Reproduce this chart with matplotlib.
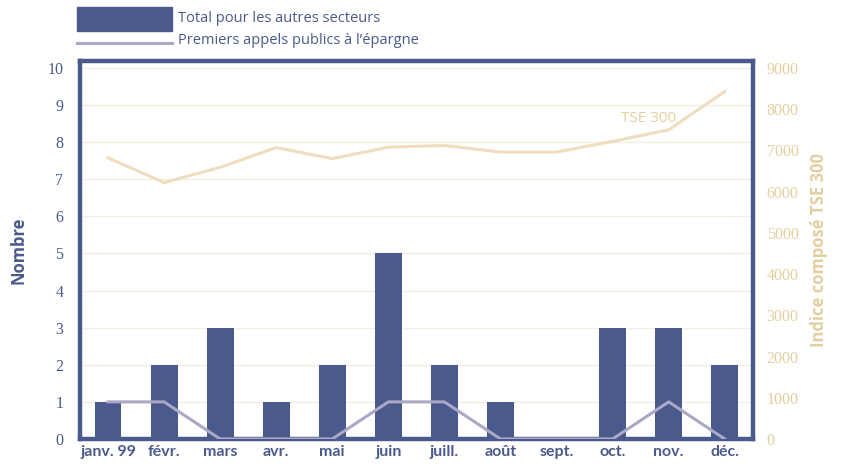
import matplotlib
matplotlib.use("Agg")
import matplotlib.pyplot as plt
from matplotlib.patches import Rectangle
from matplotlib.lines import Line2D

months = ["janv. 99", "févr.", "mars", "avr.", "mai", "juin", "juill.", "août", "sept.", "oct.", "nov.", "déc."]
autres_secteurs = [1, 2, 3, 1, 2, 5, 2, 1, 0, 3, 3, 2]
premiers_appels = [1, 1, 0, 0, 0, 1, 1, 0, 0, 0, 1, 0]
tse300 = [6820, 6220, 6590, 7070, 6800, 7080, 7120, 6960, 6960, 7220, 7500, 8430]

BLUE = "#4A5A8C"
LAV = "#ABA7C6"
BEIGE = "#EEDDBE"
BEIGE_TXT = "#E3CFA0"
GRID = "#F6EEE2"

fig = plt.figure(figsize=(8.41, 4.66), dpi=100)
ax = fig.add_axes([0.0951, 0.058, 0.80, 0.812])
x = list(range(len(months)))

ax.bar(x, autres_secteurs, width=0.48, color=BLUE, zorder=3)
ax.plot(x, premiers_appels, color=LAV, lw=2.2, zorder=4)
ax.set_ylim(0, 10.2)
ax.set_xlim(-0.5, 11.5)
ax.set_yticks(range(0, 11))
ax.yaxis.grid(True, color=GRID, lw=1)
ax.set_axisbelow(True)
ax.set_xticks(x)
ax.set_xticklabels(months, fontfamily="Lato", fontweight="bold", fontsize=11.5, color=BLUE)
for lbl in ax.get_yticklabels():
    lbl.set_fontfamily("Liberation Serif")
    lbl.set_fontsize(11.5)
    lbl.set_color(BLUE)
ax.tick_params(axis="both", length=0)
ax.tick_params(axis="y", pad=12)
ax.tick_params(axis="x", pad=4)
ax.set_ylabel("Nombre", fontfamily="Open Sans", fontweight="bold", fontsize=12, color=BLUE, labelpad=14)
for s in ax.spines.values():
    s.set_color(BLUE)
    s.set_linewidth(3.2)
    s.set_zorder(2)

ax2 = ax.twinx()
ax2.plot(x, tse300, color=BEIGE, lw=2.2, zorder=2)
ax2.set_ylim(0, 9180)
ax2.set_yticks(range(0, 9001, 1000))
for lbl in ax2.get_yticklabels():
    lbl.set_fontfamily("Liberation Serif")
    lbl.set_fontsize(11.5)
    lbl.set_color(BEIGE_TXT)
ax2.tick_params(axis="y", length=0, pad=10)
for s in ax2.spines.values():
    s.set_visible(False)
ax2.set_ylabel("Indice composé TSE 300", fontfamily="Open Sans", fontweight="bold", fontsize=12, color=BEIGE_TXT, labelpad=8)
ax2.text(9.65, 7780, "TSE 300", fontfamily="Open Sans", fontsize=11, color=BEIGE_TXT, ha="center", va="center")

# Legend
fig.patches.append(Rectangle((77/841, 1 - 31/466), 95/841, 24/466, transform=fig.transFigure, color=BLUE))
fig.lines.append(Line2D([77/841, 172/841], [1 - 43/466, 1 - 43/466], transform=fig.transFigure, color=LAV, lw=2.2))
fig.text(178/841, 1 - 19/466, "Total pour les autres secteurs", fontfamily="Open Sans", fontsize=10.5, color=BLUE, va="center")
fig.text(178/841, 1 - 41/466, "Premiers appels publics à l’épargne", fontfamily="Open Sans", fontsize=10.5, color=BLUE, va="center")

fig.savefig("out.png", dpi=100)
